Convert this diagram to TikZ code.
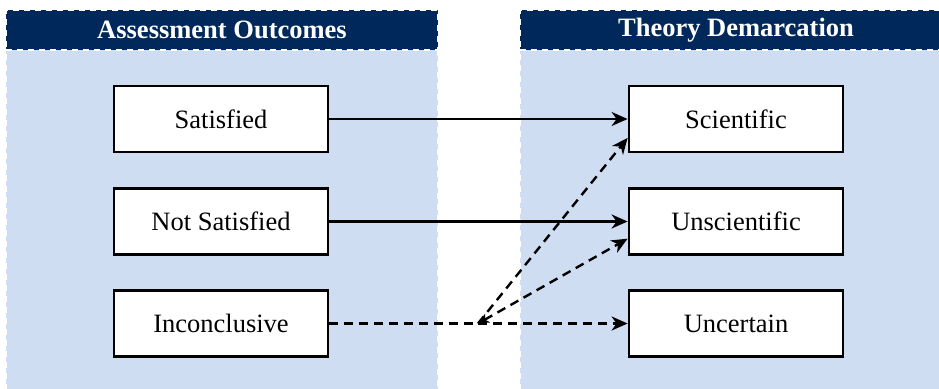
\documentclass[tikz,border=0pt]{standalone}
\usepackage{fontspec}
\setmainfont{Liberation Serif}
\usetikzlibrary{arrows.meta,calc}
\definecolor{navy}{RGB}{0,40,90}
\definecolor{paleblue}{RGB}{206,221,242}
\begin{document}
\begin{tikzpicture}[x=1pt,y=-1pt,
  panel/.style={fill=paleblue,draw=white,line width=2pt,dash pattern=on 6pt off 5pt},
  header/.style={fill=navy,draw=white,line width=2pt,dash pattern=on 6pt off 5pt,
    minimum width=432pt,minimum height=40pt,inner sep=0pt,text=white,
    font=\fontsize{26.5}{30}\selectfont\bfseries},
  box/.style={draw=black,fill=white,line width=2.8pt,minimum width=214pt,minimum height=66pt,
    inner sep=0pt,font=\fontsize{26.5}{30}\selectfont},
  solidarrow/.style={line width=2.4pt,-{Stealth[length=16pt,width=14pt,inset=5pt]}},
  dasharrow/.style={line width=2.4pt,dash pattern=on 9pt off 6pt,-{Stealth[length=16pt,width=14pt,inset=5pt]}},
  dashline/.style={line width=2.4pt,dash pattern=on 9pt off 6pt}
]
\clip (0,0) rectangle (939,388);
\path[panel] (6,10) rectangle (438,400);
\path[panel] (520,10) rectangle (952,400);
\node[header] (lh) at (222,30) {Assessment Outcomes};
\node[header] (rh) at (736,30) {Theory Demarcation};
\node[box] (sat) at (221,119) {Satisfied};
\node[box] (nsat) at (221,221.5) {Not Satisfied};
\node[box] (inc) at (221,323.5) {Inconclusive};
\node[box] (sci) at (736,119) {Scientific};
\node[box] (uns) at (736,221.5) {Unscientific};
\node[box] (unc) at (736,323.5) {Uncertain};
\coordinate (jn) at (478,323.5);
\draw[solidarrow] (sat.east) -- (sci.west);
\draw[solidarrow] (nsat.east) -- (uns.west);
\draw[dashline] (inc.east) -- (jn);
\draw[dasharrow] (jn) -- (unc.west);
\draw[dasharrow] (jn) -- ($(sci.west)!0.55!(sci.south west)$);
\draw[dasharrow,{Stealth[length=11pt,width=10pt,inset=3pt]}-{Stealth[length=16pt,width=14pt,inset=5pt]}] (jn) -- ($(uns.west)!0.5!(uns.south west)$);
\end{tikzpicture}
\end{document}
